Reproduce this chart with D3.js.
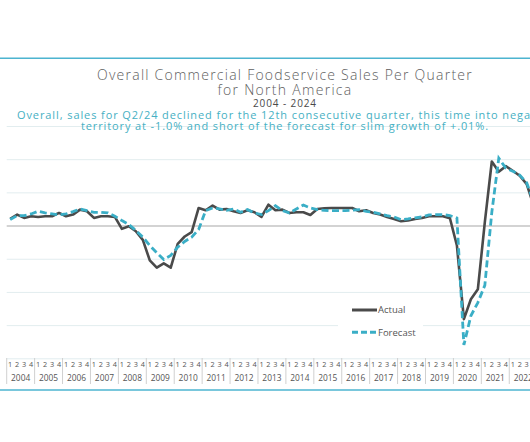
<!DOCTYPE html>
<html><head><meta charset="utf-8">
<script src="https://cdn.jsdelivr.net/npm/d3@7"></script>
<style>html,body{margin:0;padding:0;background:#fff;overflow:hidden}svg{display:block}</style>
</head><body>
<svg id="c" width="530" height="442"></svg>
<script>
// ---- data ----
const years = d3.range(2004, 2025);
const quarterLabels = ["1", "2", "3", "4"];
const actual = [
  2.0, 3.3, 2.3, 2.8,     // 2004
  2.6, 2.8, 2.8, 3.8,     // 2005
  2.8, 3.3, 4.8, 4.3,     // 2006
  2.3, 2.8, 2.8, 2.6,     // 2007
  -1.0, -0.2, -1.7, -4.3, // 2008
  -10.5, -12.7, -11.4, -12.7, // 2009
  -5.5, -3.3, -2.0, 5.3,  // 2010
  4.6, 6.0, 4.8, 5.0,     // 2011
  4.3, 3.8, 4.6, 4.0,     // 2012
  2.6, 6.3, 4.6, 4.8,     // 2013
  3.8, 4.0, 4.0, 3.2,     // 2014
  5.0, 5.2, 5.3, 5.3,     // 2015
  5.3, 5.3, 4.3, 4.6,     // 2016
  3.8, 3.3, 2.6, 2.0,     // 2017
  1.3, 1.5, 2.0, 2.3,     // 2018
  2.8, 2.8, 2.8, 2.2,     // 2019
  -6.0, -28.2, -22.2, -19.2, // 2020
  1.0, 19.3, 16.2, 17.9,  // 2021
  16.5, 15.0, 12.5, 6.0,  // 2022
  4.5, 3.5, 2.0, 0.5,     // 2023
  -0.3, -1.0              // 2024
];
const forecast = [
  1.8, 3.0, 3.0, 3.5,     // 2004
  4.3, 3.8, 3.5, 3.2,     // 2005
  3.5, 4.2, 5.0, 4.5,     // 2006
  4.0, 4.0, 3.8, 2.8,     // 2007
  1.5, 0.3, -1.5, -3.5,   // 2008
  -6.0, -8.2, -10.2, -9.0, // 2009
  -6.5, -4.8, -3.5, -1.2, // 2010
  4.5, 5.3, 5.0, 4.6,     // 2011
  5.0, 4.0, 4.8, 3.8,     // 2012
  3.3, 4.5, 6.0, 4.5,     // 2013
  3.8, 5.0, 6.2, 5.3,     // 2014
  4.8, 4.6, 4.5, 4.5,     // 2015
  4.5, 4.6, 4.8, 4.3,     // 2016
  4.0, 3.5, 3.0, 2.6,     // 2017
  1.8, 2.0, 2.3, 2.6,     // 2018
  3.2, 3.3, 3.3, 3.0,     // 2019
  2.3, -36.0, -27.2, -23.2, // 2020
  -18.0, 4.0, 20.3, 17.3, // 2021
  16.4, 15.2, 12.9, 7.0,  // 2022
  5.0, 3.5, 2.0, 1.0,     // 2023
  0.5, 0.01               // 2024
];
const yTicks = [-40, -30, -20, -10, 0, 10, 20, 30];
const seriesNames = ["Actual", "Forecast"];
const titleLines = ["Overall Commercial Foodservice Sales Per Quarter", "for North America"];
const dateRange = "2004 - 2024";
const noteLines = [
  "Overall, sales for Q2/24 declined for the 12th consecutive quarter, this time into negative",
  "territory at -1.0% and short of the forecast for slim growth of +.01%."
];

// ---- build keys ----
const keys = [];
years.forEach(y => quarterLabels.forEach(q => { if (keys.length < actual.length) keys.push(y + "Q" + q); }));

const FONT = "'Open Sans', 'Noto Sans', sans-serif";
const DARK = "#4a4a4a", TEAL = "#3aaec6";
const svg = d3.select("#c");
svg.append("rect").attr("width", 530).attr("height", 442).attr("fill", "#fff");

const left = 6.7, qw = 6.98;
const x = d3.scaleBand().domain(keys).range([left, left + keys.length * qw]).padding(0);
const xYear = d3.scaleBand().domain(years).range([left, left + years.length * 4 * qw]).padding(0);
const y = d3.scaleLinear().domain([-40, 30]).range([358.3, 126]);

// frame lines
svg.append("line").attr("x1", 0).attr("x2", 530).attr("y1", 58.3).attr("y2", 58.3)
  .attr("stroke", "#4db4d0").attr("stroke-width", 1.5);
svg.append("line").attr("x1", 0).attr("x2", 530).attr("y1", 390).attr("y2", 390)
  .attr("stroke", "#4db4d0").attr("stroke-width", 1.5);

// gridlines
const yAxis = d3.axisLeft(y).tickValues(yTicks).tickSize(-(600 - left)).tickFormat("");
const gY = svg.append("g").attr("transform", `translate(${left},0)`).call(yAxis);
gY.select(".domain").remove();
gY.selectAll(".tick line").attr("stroke", d => d === 0 ? "#c4c4c4" : "#e2edef")
  .attr("stroke-width", d => d === 0 ? 1.4 : 1);

// titles: fixed size, letter-spacing to match the reference's wide typeface
function spreadText(sel, target) {
  const n = sel.node();
  const w = n.getComputedTextLength();
  const chars = sel.text().length;
  sel.attr("letter-spacing", ((target - w) / chars).toFixed(3));
}
const cx = 285;
spreadText(svg.append("text").attr("x", cx).attr("y", 79.5).attr("text-anchor", "middle")
  .attr("font-family", FONT).attr("font-weight", 300).attr("font-size", 14).attr("fill", "#5e5e5e").text(titleLines[0]), 376);
spreadText(svg.append("text").attr("x", cx).attr("y", 94.5).attr("text-anchor", "middle")
  .attr("font-family", FONT).attr("font-weight", 300).attr("font-size", 14).attr("fill", "#5e5e5e").text(titleLines[1]), 135);
spreadText(svg.append("text").attr("x", cx).attr("y", 107).attr("text-anchor", "middle")
  .attr("font-family", FONT).attr("font-size", 10).attr("fill", "#4a4a4a").text(dateRange), 64);
const noteW = [536, 408];
noteLines.forEach((t, i) => {
  const s = svg.append("text").attr("x", cx).attr("y", 118.5 + i * 11.5).attr("text-anchor", "middle")
    .attr("font-family", FONT).attr("font-size", 11).attr("fill", "#46b0c3").text(t);
  spreadText(s, noteW[i]);
});

// legend background + legend
svg.append("rect").attr("x", 338).attr("y", 297).attr("width", 85).attr("height", 50).attr("fill", "#fff");
const legY = [310, 332.3];
seriesNames.forEach((n, i) => {
  svg.append("line").attr("x1", 352).attr("x2", 377).attr("y1", legY[i]).attr("y2", legY[i])
    .attr("stroke", i ? TEAL : DARK).attr("stroke-width", 3)
    .attr("stroke-dasharray", i ? "6,3" : null);
  svg.append("text").attr("x", 378).attr("y", legY[i] + 3.2).attr("font-family", FONT)
    .attr("font-size", 9.5).attr("fill", "#555").text(n);
});

// lines
const line = d3.line().x((d, i) => x(keys[i]) + x.bandwidth() / 2).y(d => y(d));
svg.append("path").datum(actual).attr("d", line).attr("fill", "none")
  .attr("stroke", DARK).attr("stroke-width", 2.6).attr("stroke-linejoin", "round");
svg.append("path").datum(forecast).attr("d", line).attr("fill", "none")
  .attr("stroke", TEAL).attr("stroke-width", 2.8).attr("stroke-dasharray", "7,3.5");

// x axis: quarters
const gQ = svg.append("g").attr("transform", "translate(0,358.3)")
  .call(d3.axisBottom(x).tickSize(0).tickPadding(4).tickFormat(k => k.split("Q")[1]));
gQ.select(".domain").remove();
gQ.selectAll("text").attr("font-family", FONT).attr("font-size", 7.3).attr("fill", "#555");
// years
const gYr = svg.append("g").attr("transform", "translate(0,372)")
  .call(d3.axisBottom(xYear).tickSize(0).tickPadding(3).tickFormat(d => String(d)));
gYr.select(".domain").remove();
gYr.selectAll("text").attr("font-family", FONT).attr("font-size", 8.4).attr("fill", "#555");
// year separators
svg.append("g").selectAll("line").data(years).join("line")
  .attr("x1", d => xYear(d)).attr("x2", d => xYear(d))
  .attr("y1", 358).attr("y2", 384).attr("stroke", "#d0d0d0").attr("stroke-width", 1);
</script>
</body></html>
